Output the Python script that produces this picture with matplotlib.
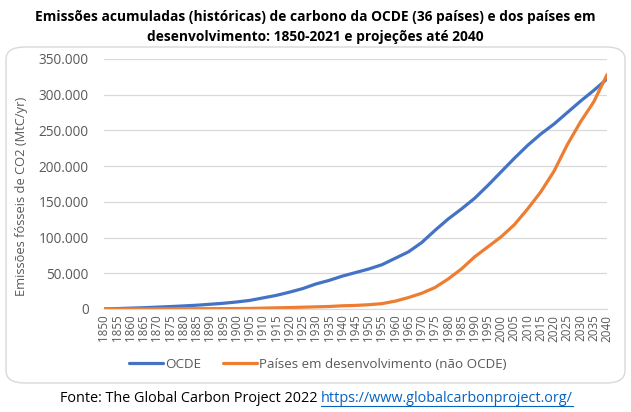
import matplotlib
matplotlib.use("Agg")
import matplotlib.pyplot as plt
from matplotlib.patches import FancyBboxPatch
from matplotlib.lines import Line2D
from matplotlib.ticker import FuncFormatter

anos = list(range(1850, 2041, 5))
ocde = [0, 600, 1200, 1800, 2600, 3400, 4300, 5300, 6600, 8000,
        9800, 12000, 15500, 19000, 23500, 28500, 35000, 40000, 46000, 51000,
        56000, 62000, 71000, 80000, 93000, 110000, 126000, 140000, 155000, 173000,
        192000, 211000, 229000, 245000, 259000, 275000, 291000, 306000, 322000]
nao_ocde = [0, 50, 100, 150, 200, 300, 350, 400, 450, 500,
            600, 800, 1200, 1600, 2000, 2500, 3000, 3500, 4500, 5000,
            6000, 7500, 11000, 16000, 22000, 30000, 42000, 56000, 73000, 87000,
            101000, 118000, 140000, 164000, 193000, 230000, 262000, 290000, 328000]

titulo = ("Emissões acumuladas (históricas) de carbono da OCDE (36 países) e dos países em\n"
          "desenvolvimento: 1850-2021 e projeções até 2040")
fonte = "Fonte: The Global Carbon Project 2022 "
url = "https://www.globalcarbonproject.org/"

plt.rcParams['font.family'] = ['Open Sans', 'DejaVu Sans']
cinza = '#595959'

fig = plt.figure(figsize=(6.31, 4.12), dpi=100)
fig.patch.set_facecolor('white')

# moldura arredondada do gráfico
frame = FancyBboxPatch((6 / 631, 1 - 383 / 412), 619 / 631, 336 / 412,
                       boxstyle="round,pad=0,rounding_size=0.03",
                       transform=fig.transFigure, facecolor='white',
                       edgecolor='#d9d9d9', linewidth=1.0, zorder=-5)
fig.patches.append(frame)

fig.text(0.5, 1 - 27 / 412, titulo, ha='center', va='center', fontsize=9.9,
         fontweight='bold', linespacing=1.5, color='black')

ax = fig.add_axes([104 / 631, 1 - 309 / 412, 503 / 631, 250 / 412])
ax.set_zorder(2)
ax.set_facecolor('none')
ax.plot(anos, ocde, color='#4472C4', lw=2.3, label='OCDE', solid_capstyle='round')
ax.plot(anos, nao_ocde, color='#ED7D31', lw=2.3,
        label='Países em desenvolvimento (não OCDE)', solid_capstyle='round')

ax.set_xlim(1850, 2040)
ax.set_ylim(0, 350000)
ax.set_yticks(range(0, 350001, 50000))
ax.yaxis.set_major_formatter(FuncFormatter(lambda v, p: f"{int(v):,}".replace(',', '.')))
ax.set_xticks(anos)
ax.set_xticklabels([str(a) for a in anos], rotation=90)
ax.tick_params(axis='y', length=0, labelsize=9.8, colors=cinza, pad=11)
ax.tick_params(axis='x', length=0, labelsize=8.4, colors=cinza, pad=4)
ax.grid(axis='y', color='#d9d9d9', lw=0.9)
ax.set_axisbelow(True)
for s in ['top', 'right', 'left']:
    ax.spines[s].set_visible(False)
ax.spines['bottom'].set_color('#d9d9d9')
ax.set_ylabel('Emissões fósseis de CO2 (MtC/yr)', fontsize=9.3, color=cinza)
ax.yaxis.set_label_coords(-0.151, 0.45)

ax.legend(loc='center', bbox_to_anchor=(0.425, -0.22), ncol=2, frameon=False,
          fontsize=9.6, handlelength=2.6, columnspacing=1.6, handletextpad=0.15,
          labelcolor=cinza)

t1 = fig.text(60 / 631, 1 - 399 / 412, fonte, ha='left', va='center', fontsize=10.4, color='black')
fig.canvas.draw()
r = fig.canvas.get_renderer()
bb = t1.get_window_extent(r)
x2 = bb.x1 / fig.bbox.width
t2 = fig.text(x2, 1 - 399 / 412, url, ha='left', va='center', fontsize=10.4, color='#0563C1')
bb2 = t2.get_window_extent(r)
yu = (bb2.y0 + 1) / fig.bbox.height
fig.lines.append(Line2D([bb2.x0 / fig.bbox.width, bb2.x1 / fig.bbox.width], [yu, yu],
                        transform=fig.transFigure, color='#0563C1', lw=0.8))

fig.savefig('out.png', dpi=100)
